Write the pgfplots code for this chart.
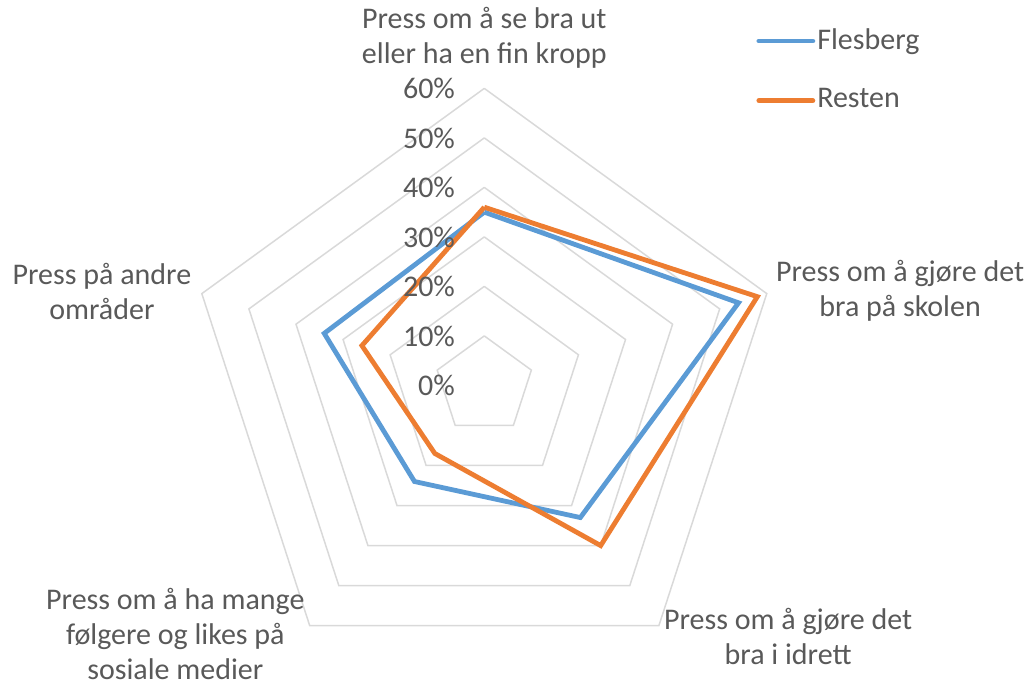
\documentclass[border=0pt]{standalone}
\usepackage{pgfplots}
\pgfplotsset{compat=1.18}
\usepgfplotslibrary{polar}
\usepackage{fontspec}
\setmainfont{Carlito}

\definecolor{flesberg}{HTML}{5B9BD5}
\definecolor{resten}{HTML}{ED7D31}
\definecolor{gridc}{HTML}{D9D9D9}
\definecolor{txt}{HTML}{595959}

\begin{document}
\begin{tikzpicture}[every node/.style={text=txt}]
\fontsize{15}{17.5}\selectfont
\begin{polaraxis}[
  width=297pt, height=297pt, scale only axis,
  ymin=0, ymax=60,
  hide axis,
  clip=false,
  legend style={draw=none, fill=none, font=\fontsize{15}{18}\selectfont,
    at={(0.9474,1.1118)}, anchor=north west, row sep=15.5pt,
    nodes={text=txt, inner sep=1pt}},
  legend cell align=left,
  legend image code/.code={\draw[#1, line cap=round] (0pt,0pt) -- (27pt,0pt);},
]
% pentagon grid, 10% .. 60%
\pgfplotsinvokeforeach{10,20,30,40,50,60}{
  \addplot[gridc, line width=0.75pt, forget plot] coordinates {(90,#1) (18,#1) (-54,#1) (-126,#1) (162,#1) (90,#1)};
}
% axes order: top, right, bottom-right, bottom-left, left
\addplot[flesberg, line width=2.4pt] coordinates {
  (90,35) (18,54) (-54,33) (-126,24) (162,34) (90,35)
};
\addlegendentry{Flesberg}
\addplot[resten, line width=2.4pt] coordinates {
  (90,36) (18,58) (-54,40) (-126,17) (162,26) (90,36)
};
\addlegendentry{Resten}
\pgfplotsinvokeforeach{0,10,20,30,40,50,60}{
  \node[anchor=east, inner sep=0pt] at (axis cs:90,#1) [xshift=-14.5pt] {#1\%};
}
\coordinate (c) at (axis cs:0,0);
\end{polaraxis}
\node[align=center] at ([shift={(0pt,173.7pt)}]c) {Press om å se bra ut\\eller ha en fin kropp};
\node[align=center] at ([shift={(207.9pt,47.2pt)}]c) {Press om å gjøre det\\bra på skolen};
\node[align=center] at ([shift={(151.9pt,-125.3pt)}]c) {Press om å gjøre det\\bra i idrett};
\node[align=center, text depth=0pt] at ([shift={(-154.5pt,-124pt)}]c) {Press om å ha mange\\følgere og likes på\\sosiale medier};
\node[align=center] at ([shift={(-191.2pt,47.2pt)}]c) {Press på andre\\områder};
\pgfresetboundingbox
\path ([shift={(-242.15pt,-149.8pt)}]c) rectangle ([shift={(271.85pt,192.7pt)}]c);
\end{tikzpicture}
\end{document}
